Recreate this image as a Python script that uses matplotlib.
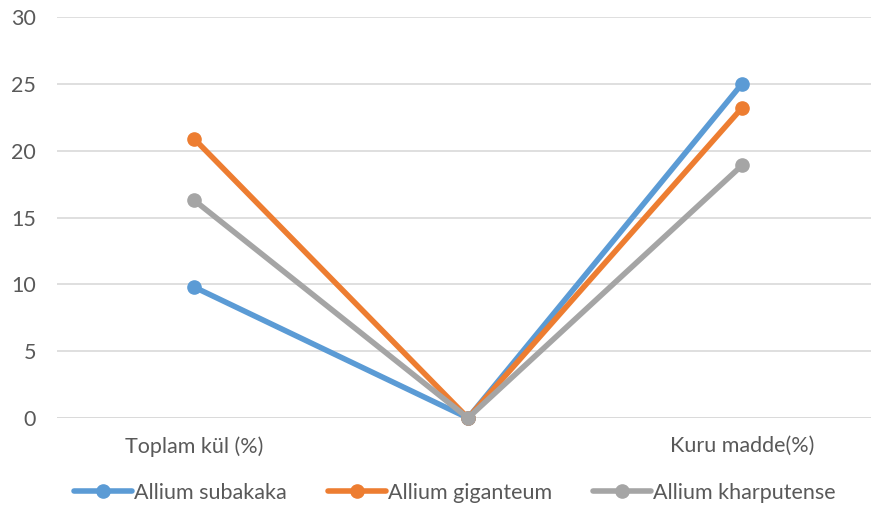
import matplotlib.pyplot as plt

# Category labels (middle category has no label)
categories = ['Toplam kül (%)', '', 'Kuru madde(%)']

# Series values
subakaka = [9.8, 0, 25.0]
giganteum = [20.9, 0, 23.2]
kharputense = [16.3, 0, 18.9]

series_names = ['Allium subakaka', 'Allium giganteum', 'Allium kharputense']
colors = ['#5B9BD5', '#ED7D31', '#A5A5A5']

plt.rcParams['font.family'] = ['Lato', 'DejaVu Sans']
text_color = '#595959'
fs = 15.5

fig = plt.figure(figsize=(8.71, 5.11), dpi=100)
ax = fig.add_axes([57 / 871, 1 - 418 / 511, 822 / 871, 401 / 511])

x = range(len(categories))
for vals, name, c in zip([subakaka, giganteum, kharputense], series_names, colors):
    ax.plot(x, vals, color=c, linewidth=4.0, marker='o', markersize=9.5,
            label=name, solid_capstyle='round', solid_joinstyle='round', clip_on=False, zorder=3)

ax.set_xlim(-0.5, 2.5)
ax.set_ylim(0, 30)
ax.set_yticks(range(0, 31, 5))
ax.yaxis.grid(True, color='#D9D9D9', linewidth=1.2)
ax.set_axisbelow(True)

ax.set_xticks(list(x))
ax.set_xticklabels(categories)
ax.tick_params(axis='x', length=0, pad=13, labelsize=fs, labelcolor=text_color)
ax.tick_params(axis='y', length=0, pad=15, labelsize=fs, labelcolor=text_color)

for s in ax.spines.values():
    s.set_visible(False)
ax.axhline(0, color='#D9D9D9', linewidth=1.2, zorder=1)

fig.legend(loc='center', bbox_to_anchor=(455 / 871, 1 - 493 / 511), ncol=3,
           frameon=False, fontsize=fs, handlelength=2.7, handletextpad=0.1,
           columnspacing=1.9, labelcolor=text_color)

fig.savefig('out.png', dpi=100)
